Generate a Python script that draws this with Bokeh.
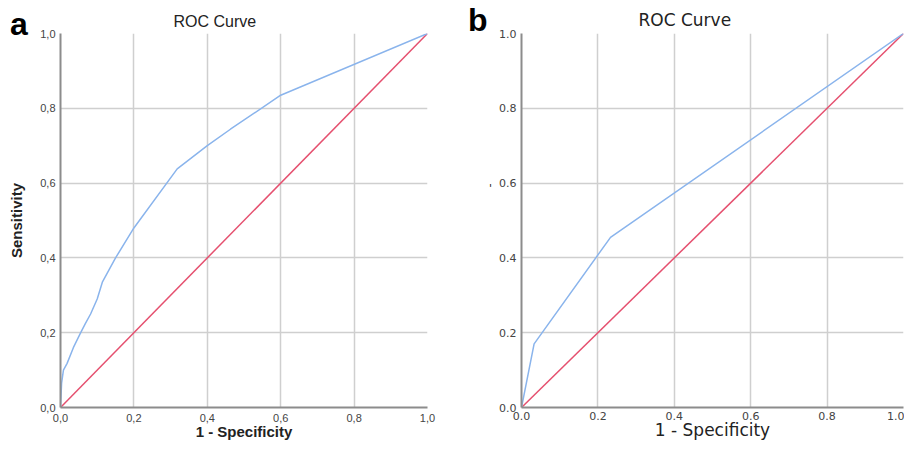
from bokeh.plotting import figure
from bokeh.layouts import row
from bokeh.models import Range1d, FixedTicker, Div
from bokeh.embed import file_html
from bokeh.resources import INLINE

# ---- data ----
ticks = [0.0, 0.2, 0.4, 0.6, 0.8, 1.0]
tick_labels_a = ["0,0", "0,2", "0,4", "0,6", "0,8", "1,0"]
tick_labels_b = ["0.0", "0.2", "0.4", "0.6", "0.8", "1.0"]

a_fpr = [0.0, 0.003, 0.008, 0.018, 0.035, 0.054, 0.068, 0.082, 0.1, 0.114,
         0.15, 0.2, 0.318, 0.4, 0.463, 0.6, 1.0]
a_tpr = [0.0, 0.065, 0.1, 0.118, 0.16, 0.198, 0.225, 0.25, 0.29, 0.335,
         0.40, 0.48, 0.638, 0.70, 0.744, 0.835, 1.0]

b_fpr = [0.0, 0.033, 0.233, 1.0]
b_tpr = [0.0, 0.17, 0.455, 1.0]

ref_x = [0.0, 1.0]
ref_y = [0.0, 1.0]

BLUE = "#8ab4ec"
RED = "#e5506f"
GRID = "#cfcfcf"
AXIS = "#8c8c8c"


def make(width, min_left, min_right, min_bottom, font, labels, xlabel_size,
         xlabel_bold, x_standoff, label_standoff, title_size):
    p = figure(width=width, height=442, output_backend="svg", toolbar_location=None,
               x_range=Range1d(0, 1), y_range=Range1d(0, 1),
               min_border_left=min_left, min_border_right=min_right,
               min_border_top=33, min_border_bottom=min_bottom)
    p.outline_line_color = None
    p.background_fill_color = "white"
    for ax in (p.xaxis[0], p.yaxis[0]):
        ax.ticker = FixedTicker(ticks=ticks)
        ax.major_label_overrides = {t: l for t, l in zip(ticks, labels)}
        ax.major_tick_line_color = None
        ax.minor_tick_line_color = None
        ax.major_tick_out = 0
        ax.major_tick_in = 0
        ax.axis_line_color = AXIS
        ax.axis_line_width = 2
        ax.major_label_text_font = font
        ax.major_label_text_font_size = "11px"
        ax.major_label_text_color = "#444444"
    p.xaxis.major_label_standoff = x_standoff
    p.yaxis.major_label_standoff = 5
    p.xaxis.axis_label = "1 - Specificity"
    p.xaxis.axis_label_text_font = font
    p.xaxis.axis_label_text_font_size = xlabel_size
    p.xaxis.axis_label_text_font_style = "bold" if xlabel_bold else "normal"
    p.xaxis.axis_label_text_color = "#222222"
    p.xaxis.axis_label_standoff = label_standoff
    for g in (p.xgrid[0], p.ygrid[0]):
        g.ticker = FixedTicker(ticks=ticks)
        g.grid_line_color = GRID
        g.grid_line_width = 1.5
    p.title.text = "ROC Curve"
    p.title.text_font = font
    p.title.text_font_size = title_size
    p.title.text_font_style = "normal"
    p.title.text_color = "#222222"
    p.title.align = "left"
    p.title.standoff = 7
    return p


pa = make(456, 60, 29, 35, "Liberation Sans", tick_labels_a, "15px", True,
          6, -2, "16px")
pa.title.offset = 113
pa.yaxis.axis_label = "Sensitivity"
pa.yaxis.axis_label_text_font = "Liberation Sans"
pa.yaxis.axis_label_text_font_size = "15px"
pa.yaxis.axis_label_text_font_style = "bold"
pa.yaxis.axis_label_text_color = "#222222"
pa.yaxis.axis_label_standoff = 12
pa.line(ref_x, ref_y, line_color=RED, line_width=1.5)
pa.line(a_fpr, a_tpr, line_color=BLUE, line_width=1.5)

pb = make(448, 65, 1, 32, "DejaVu Sans", tick_labels_b, "17px", False,
          4, -3, "17px")
pb.title.offset = 117
pb.line(ref_x, ref_y, line_color=RED, line_width=1.5)
pb.line(b_fpr, b_tpr, line_color=BLUE, line_width=1.5)

letter_style = {"position": "absolute", "font-family": "Liberation Sans",
                "font-size": "32px", "font-weight": "bold", "color": "black",
                "z-index": "10", "line-height": "32px"}
div_a = Div(text="a", styles=dict(letter_style, left="5px", top="3px"))
div_b = Div(text="b", styles=dict(letter_style, left="463px", top="-1px"))
div_tick = Div(text="'", styles={"position": "absolute", "left": "484px", "top": "176px",
                                 "font-family": "DejaVu Sans", "font-size": "11px",
                                 "color": "#222222", "z-index": "10"})

layout = row(pa, pb, div_a, div_b, div_tick)
open("out.html", "w").write(file_html(layout, INLINE))
